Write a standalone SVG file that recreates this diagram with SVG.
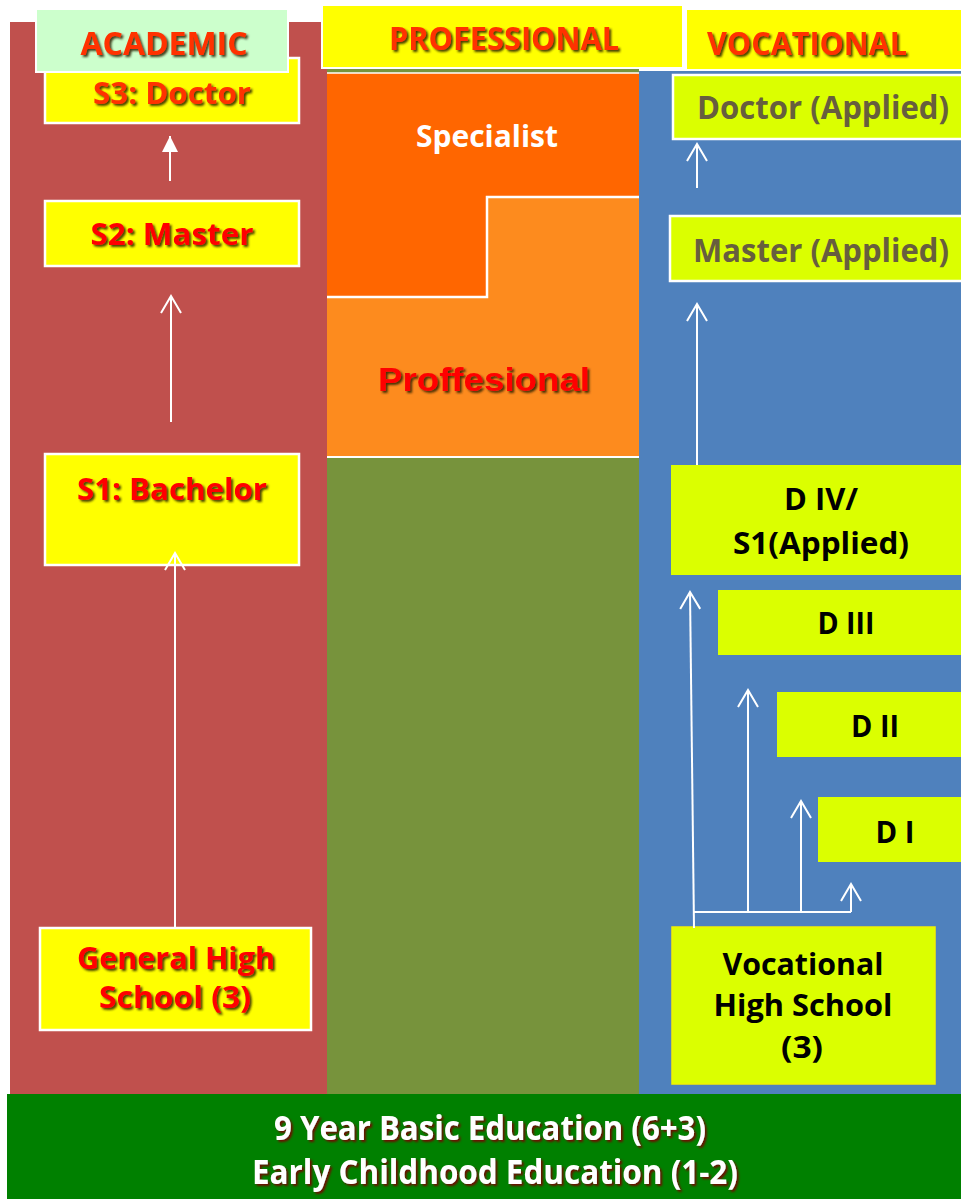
<svg xmlns="http://www.w3.org/2000/svg" width="961" height="1199" viewBox="0 0 961 1199">
  <style>
    .b { font-family: "Open Sans", "Noto Sans", "DejaVu Sans", sans-serif; font-weight: bold; text-anchor: middle; }
    .ar { font-family: "Liberation Sans", Arial, sans-serif; font-weight: bold; text-anchor: middle; }
    .hdr { fill: #FF3300; font-size: 33px; filter: url(#sh); }
    .red { fill: #FF0000; filter: url(#sh); }
    .olive { fill: #675E3E; }
    .blk { fill: #000000; }
    .wht { fill: #FFFFFF; }
    .ybox { fill: #FFFF00; stroke: #FFFFFF; stroke-width: 2.5; }
    .lbox { fill: #DBFF00; }
    .conn { stroke: #FFFFFF; stroke-width: 2; fill: none; }
  </style>
  <defs>
    <filter id="sh" x="-10%" y="-20%" width="120%" height="150%">
      <feDropShadow dx="2" dy="2" stdDeviation="0.8" flood-color="#2a1a00" flood-opacity="0.85"/>
    </filter>
    <filter id="shr" x="-10%" y="-20%" width="120%" height="150%">
      <feDropShadow dx="2" dy="2" stdDeviation="1" flood-color="#7a0000" flood-opacity="0.9"/>
    </filter>
    <marker id="open" markerUnits="userSpaceOnUse" markerWidth="24" markerHeight="24" viewBox="-20 -12 24 24" refX="0" refY="0" orient="auto" overflow="visible">
      <path d="M -17 -10 L 0 0 L -17 10" fill="none" stroke="#FFFFFF" stroke-width="2"/>
    </marker>
    <marker id="solid" markerUnits="userSpaceOnUse" markerWidth="24" markerHeight="24" viewBox="-20 -12 24 24" refX="0" refY="0" orient="auto" overflow="visible">
      <path d="M -16 -8 L 0 0 L -16 8 Z" fill="#FFFFFF"/>
    </marker>
  </defs>

  <rect x="0" y="0" width="961" height="1199" fill="#FFFFFF"/>

  <!-- columns -->
  <g id="col-academic">
    <rect x="10" y="22" width="317" height="1072" fill="#C0504D"/>
  </g>
  <g id="col-professional">
    <rect x="327" y="69" width="312" height="1025" fill="#77933C"/>
    <rect x="327" y="197" width="312" height="260" fill="#FD8B1E"/>
    <line x1="327" y1="457" x2="639" y2="457" stroke="#FFFFFF" stroke-width="2"/>
  </g>
  <g id="col-vocational">
    <rect x="639" y="71" width="322" height="1023" fill="#4F81BD"/>
  </g>

  <!-- academic nodes -->
  <g id="s3-doctor">
    <rect class="ybox" x="45" y="58" width="254" height="65"/>
    <text class="b" x="172" y="104" font-size="31" fill="#FF3300" filter="url(#sh)" textLength="158" lengthAdjust="spacingAndGlyphs">S3: Doctor</text>
  </g>
  <g id="s2-master">
    <rect class="ybox" x="45" y="201" width="254" height="65"/>
    <text class="b red" x="172" y="245" font-size="31" textLength="163" lengthAdjust="spacingAndGlyphs">S2: Master</text>
  </g>
  <g id="s1-bachelor">
    <rect class="ybox" x="45" y="454" width="254" height="111"/>
    <text class="b red" x="172" y="500" font-size="31" textLength="190" lengthAdjust="spacingAndGlyphs">S1: Bachelor</text>
  </g>
  <g id="general-high-school">
    <rect class="ybox" x="40" y="928" width="271" height="102"/>
    <text class="b red" x="176" y="969" font-size="31" textLength="198" lengthAdjust="spacingAndGlyphs">General High</text>
    <text class="b red" x="175" y="1008" font-size="31" textLength="152" lengthAdjust="spacingAndGlyphs">School (3)</text>
  </g>

  <!-- headers -->
  <g id="hdr-academic">
    <rect x="36" y="9" width="252" height="63" fill="#CCFFCC" stroke="#FFFFFF" stroke-width="2"/>
    <text class="b hdr" x="164" y="55" textLength="167" lengthAdjust="spacingAndGlyphs">ACADEMIC</text>
  </g>
  <g id="hdr-professional">
    <rect x="322" y="5" width="361" height="63" fill="#FFFF00" stroke="#FFFFFF" stroke-width="2"/>
    <text class="b hdr" x="504" y="50" textLength="230" lengthAdjust="spacingAndGlyphs">PROFESSIONAL</text>
  </g>
  <g id="hdr-vocational">
    <rect x="686" y="9" width="276" height="61" fill="#FFFF00" stroke="#FFFFFF" stroke-width="2"/>
    <text class="b hdr" x="807" y="55" textLength="200" lengthAdjust="spacingAndGlyphs">VOCATIONAL</text>
  </g>

  <!-- professional nodes -->
  <g id="specialist">
    <path d="M 327 73 L 639 73 L 639 197 L 487 197 L 487 297 L 327 297 Z" fill="#FF6600"/>
    <path d="M 639 197 L 487 197 L 487 297 L 327 297" fill="none" stroke="#FFFFFF" stroke-width="2.5"/>
    <line x1="327" y1="73" x2="639" y2="73" stroke="#FFFFFF" stroke-width="1.5"/>
    <text class="b wht" x="487" y="147" font-size="31" textLength="142" lengthAdjust="spacingAndGlyphs">Specialist</text>
  </g>
  <g id="proffesional">
    <text class="ar red" x="484" y="391" font-size="34" textLength="212" lengthAdjust="spacingAndGlyphs">Proffesional</text>
  </g>

  <!-- vocational nodes -->
  <g id="doctor-applied">
    <rect class="lbox" x="673" y="75" width="290" height="64" stroke="#FFFFFF" stroke-width="2.5"/>
    <text class="b olive" x="823" y="119" font-size="32" textLength="252" lengthAdjust="spacingAndGlyphs">Doctor (Applied)</text>
  </g>
  <g id="master-applied">
    <rect class="lbox" x="670" y="216" width="293" height="65" stroke="#FFFFFF" stroke-width="2.5"/>
    <text class="b olive" x="821" y="262" font-size="32" textLength="256" lengthAdjust="spacingAndGlyphs">Master (Applied)</text>
  </g>
  <g id="d4-s1-applied">
    <rect class="lbox" x="671" y="465" width="290" height="110"/>
    <text class="b blk" x="821" y="510" font-size="31" textLength="74" lengthAdjust="spacingAndGlyphs">D IV/</text>
    <text class="b blk" x="821" y="554" font-size="31" textLength="176" lengthAdjust="spacingAndGlyphs">S1(Applied)</text>
  </g>
  <g id="d3">
    <rect class="lbox" x="718" y="590" width="243" height="65"/>
    <text class="b blk" x="846" y="634" font-size="31" textLength="57" lengthAdjust="spacingAndGlyphs">D III</text>
  </g>
  <g id="d2">
    <rect class="lbox" x="777" y="692" width="184" height="65"/>
    <text class="b blk" x="875" y="737" font-size="31" textLength="48" lengthAdjust="spacingAndGlyphs">D II</text>
  </g>
  <g id="d1">
    <rect class="lbox" x="818" y="797" width="143" height="65"/>
    <text class="b blk" x="895" y="843" font-size="31" textLength="39" lengthAdjust="spacingAndGlyphs">D I</text>
  </g>
  <g id="vocational-high-school">
    <rect x="672" y="927" width="263" height="157" fill="#DBFF00" stroke="#F2F200" stroke-width="1.5"/>
    <text class="b blk" x="803" y="975" font-size="31" textLength="161" lengthAdjust="spacingAndGlyphs">Vocational</text>
    <text class="b blk" x="803" y="1016" font-size="31" textLength="179" lengthAdjust="spacingAndGlyphs">High School</text>
    <text class="b blk" x="802" y="1058" font-size="31" textLength="42" lengthAdjust="spacingAndGlyphs">(3)</text>
  </g>

  <!-- bottom -->
  <g id="basic-education">
    <rect x="7" y="1094" width="954" height="105" fill="#008000"/>
    <text class="b wht" x="490" y="1140" font-size="34" filter="url(#shr)" textLength="432" lengthAdjust="spacingAndGlyphs">9 Year Basic Education (6+3)</text>
    <text class="b wht" x="495" y="1184" font-size="34" filter="url(#shr)" textLength="486" lengthAdjust="spacingAndGlyphs">Early Childhood Education (1-2)</text>
  </g>

  <!-- connectors -->
  <g id="connectors" class="conn">
    <line x1="170" y1="181" x2="170" y2="136" marker-end="url(#solid)"/>
    <line x1="171" y1="422" x2="171" y2="296" marker-end="url(#open)"/>
    <line x1="175" y1="928" x2="175" y2="553" marker-end="url(#open)"/>
    <line x1="697" y1="188" x2="697" y2="144" marker-end="url(#open)"/>
    <line x1="697" y1="465" x2="697" y2="304" marker-end="url(#open)"/>
    <line x1="694" y1="928" x2="690" y2="592" marker-end="url(#open)"/>
    <line x1="694" y1="912" x2="851" y2="912"/>
    <line x1="748" y1="912" x2="748" y2="690" marker-end="url(#open)"/>
    <line x1="801" y1="912" x2="801" y2="801" marker-end="url(#open)"/>
    <line x1="851" y1="912" x2="851" y2="884" marker-end="url(#open)"/>
  </g>
</svg>
